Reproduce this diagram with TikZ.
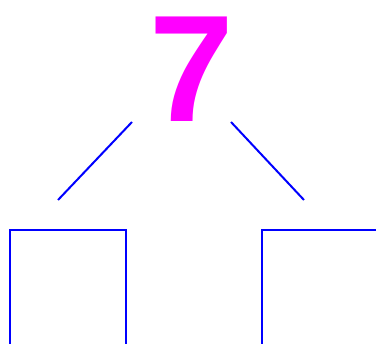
\documentclass[tikz,border=0pt]{standalone}
\usepackage{fontspec}
\setmainfont{Liberation Sans}
\usepackage{xcolor}
\usetikzlibrary{calc,positioning}

\definecolor{rootpink}{RGB}{255,0,255}
\definecolor{treeblue}{RGB}{0,0,255}

\tikzset{
  root/.style={text=rootpink,inner sep=0pt,font=\bfseries\fontsize{152}{152}\selectfont},
  leaf/.style={draw=treeblue,line width=2pt,minimum width=116pt,minimum height=160pt,inner sep=0pt,anchor=north west},
  edge/.style={draw=treeblue,line width=2pt}
}

\begin{document}
\begin{tikzpicture}[x=1pt,y=-1pt]
\useasboundingbox (0,0) rectangle (376,344);
\clip (0,0) rectangle (376,344);
\node[root,anchor=base] (seven) at (192,122) {7};
\node[leaf] (lbox) at (9,229) {};
\node[leaf,minimum width=140pt] (rbox) at (261,229) {};
\coordinate (ltop) at (132,122);
\coordinate (rtop) at (231,122);
\coordinate (lend) at ($(lbox.north west)+(49,-29)$);
\coordinate (rend) at ($(rbox.north west)+(43,-29)$);
\draw[edge] (ltop) -- (lend);
\draw[edge] (rtop) -- (rend);
\end{tikzpicture}
\end{document}
